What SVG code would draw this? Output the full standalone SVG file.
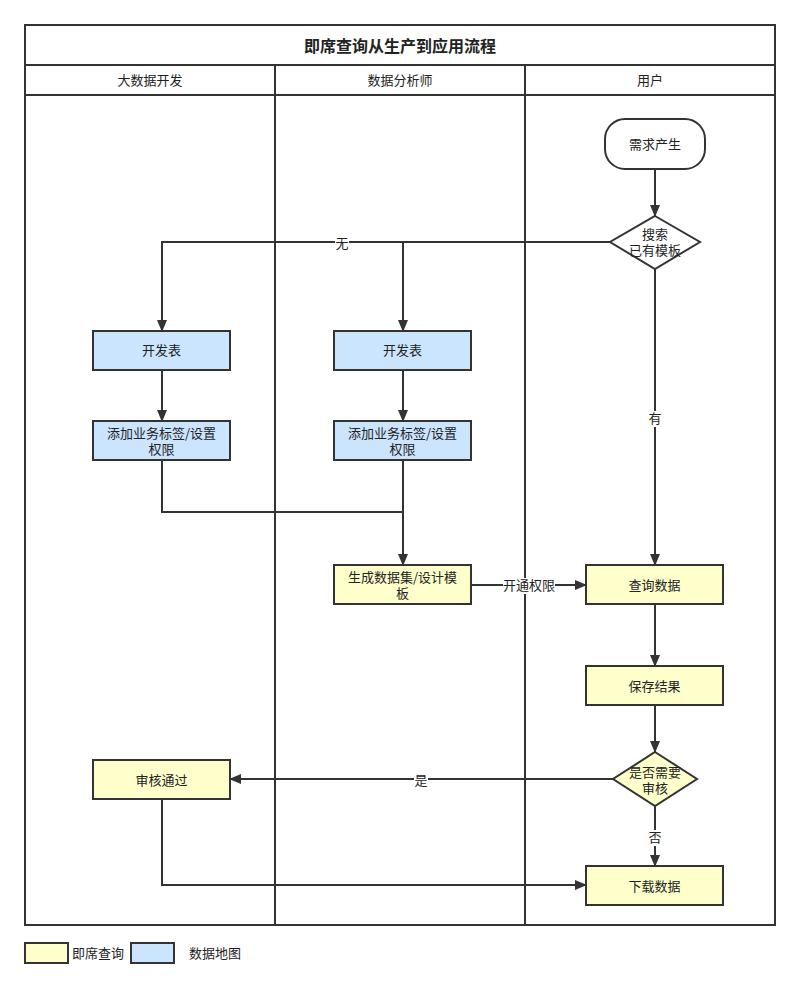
<svg xmlns="http://www.w3.org/2000/svg" width="800" height="991" viewBox="0 0 800 991">
<defs>
<marker id="arr" markerWidth="12" markerHeight="10" refX="11" refY="5" orient="auto" markerUnits="userSpaceOnUse">
<path d="M0,0 L12,5 L0,10 Z" fill="#333"/>
</marker>
<style>
text{font-family:"Noto Sans CJK SC","Noto Sans",sans-serif;font-size:13px;fill:#222;text-anchor:middle;dominant-baseline:central}
.frame{fill:none;stroke:#333;stroke-width:2}
.y{fill:#ffffcc;stroke:#333;stroke-width:2}
.b{fill:#cce5ff;stroke:#333;stroke-width:2}
.w{fill:#fff;stroke:#333;stroke-width:2}
.c{fill:none;stroke:#333;stroke-width:2}
.lbl{fill:#fff}
</style>
</defs>
<rect width="800" height="991" fill="#fff"/>
<g id="pool">
<rect class="frame" x="25" y="25" width="750" height="900"/>
<line class="frame" x1="25" y1="65" x2="775" y2="65"/>
<line class="frame" x1="25" y1="95" x2="775" y2="95"/>
<line class="frame" x1="275" y1="65" x2="275" y2="925"/>
<line class="frame" x1="525" y1="65" x2="525" y2="925"/>
<text x="400" y="45" style="font-size:16px;font-weight:bold">即席查询从生产到应用流程</text>
<text x="150" y="79">大数据开发</text>
<text x="400" y="79">数据分析师</text>
<text x="650" y="79">用户</text>
</g>
<g id="connectors">
<line class="c" x1="655" y1="169" x2="655" y2="216" marker-end="url(#arr)"/>
<polyline class="c" points="610,242 162,242 162,331" marker-end="url(#arr)"/>
<line class="c" x1="403" y1="242" x2="403" y2="331" marker-end="url(#arr)"/>
<line class="c" x1="655" y1="269" x2="655" y2="565" marker-end="url(#arr)"/>
<line class="c" x1="162" y1="370" x2="162" y2="421" marker-end="url(#arr)"/>
<line class="c" x1="403" y1="370" x2="403" y2="421" marker-end="url(#arr)"/>
<polyline class="c" points="162,460 162,512 403,512"/>
<line class="c" x1="403" y1="460" x2="403" y2="565" marker-end="url(#arr)"/>
<line class="c" x1="471" y1="585" x2="586" y2="585" marker-end="url(#arr)"/>
<line class="c" x1="655" y1="604" x2="655" y2="666" marker-end="url(#arr)"/>
<line class="c" x1="655" y1="705" x2="655" y2="752" marker-end="url(#arr)"/>
<line class="c" x1="613" y1="779" x2="230" y2="779" marker-end="url(#arr)"/>
<line class="c" x1="655" y1="806" x2="655" y2="866" marker-end="url(#arr)"/>
<polyline class="c" points="162,799 162,885 586,885" marker-end="url(#arr)"/>
<rect class="lbl" x="335" y="236" width="14" height="16"/>
<text x="342" y="242">无</text>
<rect class="lbl" x="648" y="411" width="14" height="16"/>
<text x="655" y="417">有</text>
<rect class="lbl" x="503" y="578" width="52" height="16"/>
<text x="529" y="584">开通权限</text>
<rect class="lbl" x="414" y="773" width="14" height="16"/>
<text x="421" y="779">是</text>
<rect class="lbl" x="648" y="830" width="14" height="16"/>
<text x="655" y="836">否</text>
</g>
<g id="n-demand">
<rect class="w" x="605" y="119" width="100" height="50" rx="20" ry="20"/>
<text x="655" y="143">需求产生</text>
</g>
<g id="n-search">
<polygon class="w" points="655,216 700,242 655,269 610,242"/>
<text x="655" y="233">搜索</text>
<text x="655" y="249">已有模板</text>
</g>
<g id="n-dev1">
<rect class="b" x="93" y="331" width="137" height="39"/>
<text x="161.5" y="349">开发表</text>
</g>
<g id="n-dev2">
<rect class="b" x="334" y="331" width="137" height="39"/>
<text x="402.5" y="349">开发表</text>
</g>
<g id="n-tag1">
<rect class="b" x="93" y="421" width="137" height="39"/>
<text x="161.5" y="432">添加业务标签/设置</text>
<text x="161.5" y="448">权限</text>
</g>
<g id="n-tag2">
<rect class="b" x="334" y="421" width="137" height="39"/>
<text x="402.5" y="432">添加业务标签/设置</text>
<text x="402.5" y="448">权限</text>
</g>
<g id="n-gen">
<rect class="y" x="334" y="565" width="137" height="39"/>
<text x="402.5" y="576">生成数据集/设计模</text>
<text x="402.5" y="592">板</text>
</g>
<g id="n-query">
<rect class="y" x="586" y="565" width="137" height="39"/>
<text x="654.5" y="584">查询数据</text>
</g>
<g id="n-save">
<rect class="y" x="586" y="666" width="137" height="39"/>
<text x="654.5" y="685">保存结果</text>
</g>
<g id="n-review">
<polygon class="y" points="655,752 697,779 655,806 613,779"/>
<text x="655" y="771">是否需要</text>
<text x="655" y="787">审核</text>
</g>
<g id="n-approved">
<rect class="y" x="93" y="760" width="137" height="39"/>
<text x="161.5" y="779">审核通过</text>
</g>
<g id="n-download">
<rect class="y" x="586" y="866" width="137" height="39"/>
<text x="654.5" y="885">下载数据</text>
</g>
<g id="legend">
<rect class="y" x="25" y="943" width="43" height="20"/>
<text x="72" y="952" style="text-anchor:start">即席查询</text>
<rect class="b" x="131" y="943" width="43" height="20"/>
<text x="189" y="952" style="text-anchor:start">数据地图</text>
</g>
</svg>
